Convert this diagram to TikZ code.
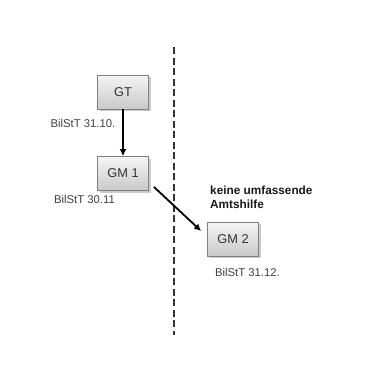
\documentclass[tikz,border=0pt]{standalone}
\usepackage{fontspec}
\setmainfont{Liberation Sans}
\usetikzlibrary{arrows.meta,shadows}
\definecolor{boxborder}{HTML}{7F7F7F}
\definecolor{lbl}{HTML}{404040}
\begin{document}
\begin{tikzpicture}[x=1pt,y=-1pt,
  gbox/.style={draw=boxborder,line width=0.8pt,top color=gray!8,bottom color=gray!42,
    minimum width=51pt,minimum height=34pt,inner sep=0pt,font=\fontsize{12.8}{14}\selectfont,
    text=black!80,drop shadow={shadow xshift=2pt,shadow yshift=-2pt,opacity=0.4}},
  lab/.style={font=\fontsize{11.3}{13}\selectfont,text=lbl,inner sep=0pt},
  arr/.style={line width=1.8pt,-{Latex[length=7pt,width=7pt]}}]
\useasboundingbox (0,0) rectangle (391,372);
\node[gbox] (gt) at (123,92) {GT};
\node[gbox] (gm1) at (123,173.5) {GM 1};
\node[gbox] (gm2) at (233,239) {GM 2};
\coordinate (dtop) at (174,47);
\coordinate (dbot) at (174,335);
\draw[line width=1.6pt,dash pattern=on 7pt off 3.5pt,black!80] (dtop) -- (dbot);
\node[lab] (l1) at (83,123) {BilStT 31.10.};
\node[lab] (l2) at (84.5,199) {BilStT 30.11};
\node[lab] (l3) at (247.5,272) {BilStT 31.12.};
\node[font=\fontsize{11.8}{14}\selectfont\bfseries,text=black!90,align=left,anchor=north west,inner sep=0pt] (kt) at (210,186) {keine umfassende\\Amtshilfe};
\draw[arr] (gt) -- (gm1);
\draw[arr] ([xshift=5pt,yshift=4pt]gm1.south east) -- ([xshift=-6pt,yshift=8pt]gm2.west);
\end{tikzpicture}
\end{document}
